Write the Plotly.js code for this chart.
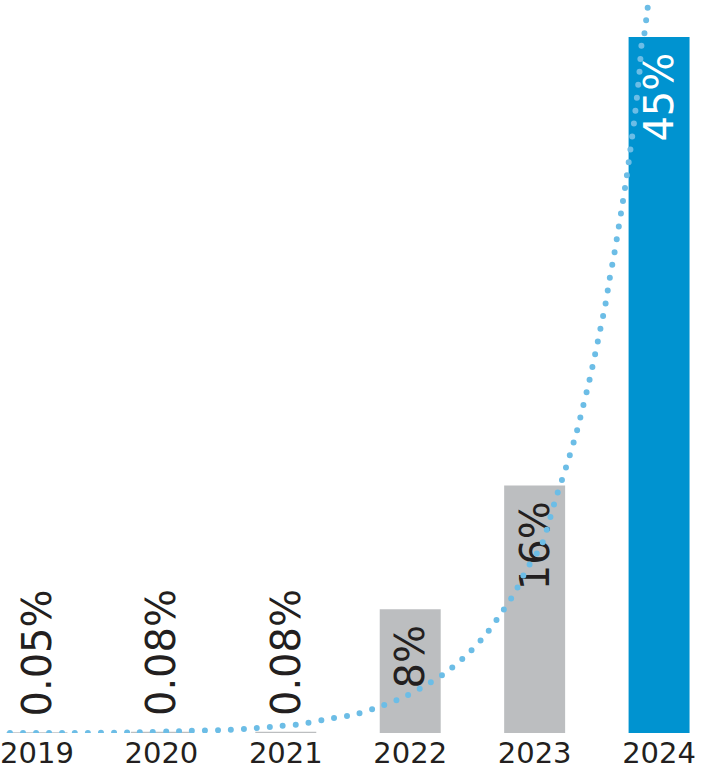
<!DOCTYPE html>
<html>
<head>
<meta charset="utf-8">
<script src="https://cdn.plot.ly/plotly-3.0.1.min.js"></script>
<style>
html,body{margin:0;padding:0;background:#fff;}
#chart{width:701px;height:773px;}
.scatterlayer .js-line{stroke-linecap:round !important;}
</style>
</head>
<body>
<div id="chart"></div>
<script>
// Categories and values (percent)
const years = ["2019", "2020", "2021", "2022", "2023", "2024"];
const shares = [0.05, 0.08, 0.08, 8, 16, 45];
const labels = ["0.05%", "0.08%", "0.08%", "8%", "16%", "45%"];
const barColors = ["#bcbec0", "#bcbec0", "#bcbec0", "#bcbec0", "#bcbec0", "#0093d0"];
const labelColors = ["#231f20", "#231f20", "#231f20", "#231f20", "#231f20", "#ffffff"];

// Dotted trend curve (x in year-index units, y in %)
const trendX = [-0.217, 0.241, 0.763, 1.189, 1.502, 1.711, 1.912, 2.129, 2.337, 2.538, 2.747, 2.932, 3.116, 3.293, 3.454, 3.598, 3.727, 3.839, 3.936, 4.056, 4.174, 4.209, 4.273, 4.335, 4.386, 4.436, 4.482, 4.524, 4.568, 4.602, 4.640, 4.675, 4.709, 4.741, 4.769, 4.798, 4.822, 4.843, 4.859, 4.884, 4.897, 4.910];
const trendY = [0.0, 0.0, 0.03, 0.13, 0.19, 0.29, 0.42, 0.58, 0.91, 1.16, 1.68, 2.26, 3.04, 3.94, 5.04, 6.27, 7.69, 9.05, 10.60, 12.15, 15.28, 16.10, 17.71, 19.38, 21.01, 22.65, 24.33, 25.95, 27.67, 29.33, 30.97, 32.67, 34.35, 36.03, 37.69, 39.42, 41.10, 42.76, 44.48, 45.30, 46.14, 47.00];

const idx = years.map((_, i) => i);
const NB = "\u00a0";
const FONT = "DejaVu Sans";

const barTrace = {
  type: "bar",
  x: idx,
  y: shares,
  width: 0.49,
  marker: {color: barColors, line: {width: 0}},
  text: labels.map(t => NB + t + NB),
  textposition: "auto",
  textangle: -90,
  insidetextanchor: "end",
  constraintext: "none",
  cliponaxis: false,
  textfont: {family: FONT, size: 40, color: labelColors},
  insidetextfont: {family: FONT, size: 40, color: labelColors},
  outsidetextfont: {family: FONT, size: 40, color: labelColors},
  hoverinfo: "skip"
};

const trendTrace = {
  type: "scatter",
  mode: "lines",
  x: trendX,
  y: trendY,
  line: {color: "#6cbde6", width: 6, dash: "0px,13px", shape: "spline", smoothing: 0.6},
  hoverinfo: "skip"
};

const layout = {
  width: 701,
  height: 773,
  margin: {l: 0, r: 0, t: 0, b: 40, pad: 0},
  paper_bgcolor: "#ffffff",
  plot_bgcolor: "#ffffff",
  showlegend: false,
  xaxis: {
    type: "linear",
    range: [-0.297, 5.337],
    tickvals: idx,
    ticktext: years,
    showgrid: false,
    zeroline: false,
    showline: false,
    ticks: "",
    tickfont: {family: FONT, size: 29, color: "#231f20"},
    fixedrange: true
  },
  yaxis: {
    range: [0, 47.39],
    visible: false,
    showgrid: false,
    zeroline: false,
    fixedrange: true
  }
};

Plotly.newPlot("chart", [barTrace, trendTrace], layout, {staticPlot: true, displayModeBar: false});
</script>
</body>
</html>
